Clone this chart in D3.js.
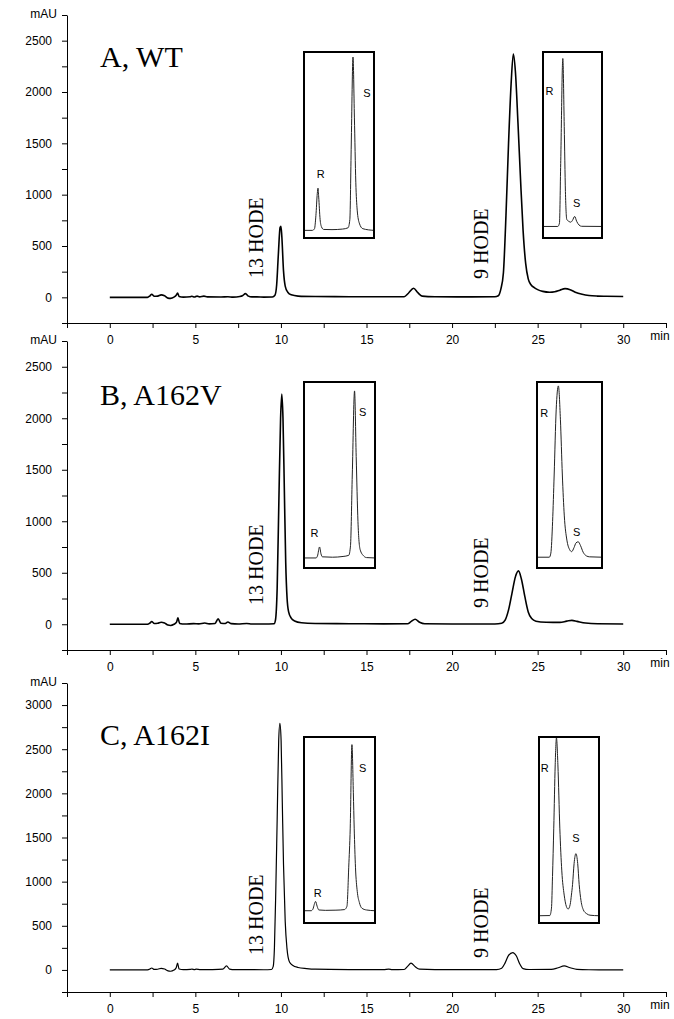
<!DOCTYPE html>
<html>
<head>
<meta charset="utf-8">
<script src="https://cdn.jsdelivr.net/npm/d3@7/dist/d3.min.js"></script>
<style>
  body { margin: 0; background: #fff; }
  .axis text { font-family: "Liberation Sans", Arial, sans-serif; font-size: 12px; fill: #000; }
  .axis path, .axis line { stroke: #000; stroke-width: 1; }
  .unit { font-family: "Liberation Sans", Arial, sans-serif; font-size: 12px; }
  .title { font-family: "Liberation Serif", "Times New Roman", serif; font-size: 30px; }
  .hode { font-family: "Liberation Serif", "Times New Roman", serif; font-size: 20px; }
  .rs { font-family: "Liberation Sans", Arial, sans-serif; font-size: 11px; }
</style>
</head>
<body>
<div id="chart"></div>
<script>
// --- data ---
const xTicks = d3.range(-2.5, 32.6, 2.5);          // minutes, labelled every 5 from 0 to 30
const panelTitles = ["A, WT", "B, A162V", "C, A162I"];

// main chromatograms: [retention time (min), absorbance (mAU)]
const traceA = [
  [0,0],[2.2,0],[2.35,15],[2.45,30],[2.6,10],[2.8,12],[3.0,24],[3.2,15],[3.4,-8],[3.55,-10],[3.75,2],
  [3.88,20],[3.96,42],[4.05,8],[4.3,2],[4.7,6],[4.8,10],[4.95,3],[5.1,12],[5.25,4],[5.5,12],[5.7,4],
  [6.5,3],[6.9,6],[7.2,2],[7.6,8],[7.75,15],[7.93,36],[8.1,12],[8.3,4],[8.6,4],[9.0,2],[9.5,3],
  [9.65,20],[9.75,120],[9.85,420],[9.95,680],[10.0,693],[10.05,600],[10.15,260],[10.25,110],[10.4,50],
  [10.6,24],[11,12],[12,8],[14,6],[16,5],[17.2,6],[17.45,40],[17.75,88],[18.0,45],[18.25,12],[19,6],
  [21,4],[22.5,5],[22.7,15],[22.85,80],[23.0,240],[23.15,800],[23.3,1500],[23.45,2080],[23.58,2370],
  [23.7,2200],[23.85,1700],[24.0,1150],[24.15,650],[24.3,330],[24.45,180],[24.6,125],[24.8,95],[25.0,75],
  [25.3,58],[25.7,50],[26.0,55],[26.3,70],[26.6,85],[26.9,75],[27.2,50],[27.6,30],[28,18],[28.5,12],
  [29,10],[30,8]
];
const traceB = [
  [0,0],[2.2,0],[2.35,12],[2.45,26],[2.6,8],[2.8,10],[3.0,20],[3.2,12],[3.4,-8],[3.55,-12],[3.75,0],
  [3.9,20],[3.98,62],[4.08,8],[4.4,2],[4.9,6],[5.2,4],[5.55,12],[5.8,4],[6.15,8],[6.33,52],[6.5,10],
  [6.75,8],[6.9,22],[7.1,6],[7.5,3],[8.0,8],[8.3,3],[9.0,2],[9.6,5],[9.68,40],[9.78,350],[9.88,1200],
  [9.98,2000],[10.05,2235],[10.12,2000],[10.2,1300],[10.28,600],[10.36,250],[10.45,120],[10.6,60],
  [10.8,32],[11.2,15],[12,8],[14,5],[16,4],[17.4,5],[17.6,25],[17.84,48],[18.1,20],[18.4,5],[20,3],
  [22.5,3],[22.9,10],[23.1,40],[23.3,140],[23.5,300],[23.7,460],[23.88,518],[24.05,440],[24.25,270],
  [24.45,120],[24.65,55],[24.9,30],[25.5,20],[26.3,18],[26.7,30],[27.0,38],[27.3,28],[27.8,12],
  [28.5,5],[30,3]
];
const traceC = [
  [0,0],[2.2,0],[2.35,10],[2.45,22],[2.6,6],[2.8,8],[3.0,18],[3.2,10],[3.4,-10],[3.55,-15],[3.75,-2],
  [3.88,25],[3.96,76],[4.05,10],[4.3,3],[4.7,6],[4.8,10],[4.95,4],[5.05,8],[5.3,3],[6.0,4],[6.6,8],
  [6.82,45],[7.0,10],[7.3,3],[8,3],[9,2],[9.45,5],[9.55,40],[9.62,250],[9.7,900],[9.78,1700],
  [9.87,2600],[9.94,2792],[10.01,2600],[10.08,1900],[10.15,1200],[10.25,550],[10.35,250],[10.5,90],
  [10.7,50],[11,28],[11.5,15],[12,8],[14,4],[16,3],[16.3,8],[16.5,3],[17.2,5],[17.4,40],[17.6,76],
  [17.85,35],[18.1,8],[19,3],[22.6,4],[22.9,20],[23.1,80],[23.3,165],[23.55,197],[23.75,160],
  [23.95,70],[24.15,15],[24.5,5],[25.8,6],[26.2,25],[26.55,45],[26.9,25],[27.3,6],[28,2],[30,0]
];

// chiral-phase insets: [relative position 0-100, relative signal 0-100]
const insetAL = [[0,4.1],[12,4.1],[15,5],[17,12],[19,24],[20,26.8],[21,22],[23,10],[25,6],[28,4.6],[40,4.5],
  [55,4.8],[63,5.5],[65.5,10],[67.5,50],[70,97.3],[72,65],[74,30],[76,15],[79,8],[84,5],[100,4.1]];
const insetAR = [[0,6.2],[25,6.2],[27.9,8],[30,40],[33.6,96.5],[36,60],[38,25],[40.3,10],[44,8.9],[47,8.5],
  [50,9.5],[53.7,11.6],[57,9],[61,7],[65.4,6.3],[100,6.2]];
const insetBL = [[0,5.4],[17,5.4],[19,6.5],[21.9,11.3],[24,7.5],[26,6],[40,5.8],[55,6.2],[63,6.8],[65.5,12],
  [68,50],[71.2,95.2],[73.5,60],[76,25],[79,10],[84,6.5],[88,5.6],[100,5.4]];
const insetBR = [[0,5.8],[19,5.8],[21.3,8],[24,25],[26.4,50],[29.5,85],[32.9,97.9],[36,80],[39,50],[42,28],
  [46,15],[50,10],[53.3,8.8],[57,11],[60,13.5],[63.4,14.1],[67,12],[71,8.5],[76,6.5],[81,6],[100,5.8]];
const insetCL = [[0,6.6],[10,6.6],[12.6,7.5],[14.5,10],[16.3,11.6],[18.5,9],[20.9,7],[30,6.8],[45,6.9],
  [57,7.2],[60.5,9],[63,30],[65.1,51],[67.5,95.9],[69.5,70],[70.7,51],[72.5,30],[75,17],[78,11],[81.4,8],
  [88,7],[100,6.6]];
const insetCR = [[0,3.9],[18,4],[20.8,8],[22.5,25],[24.6,51],[27,85],[29.1,99.5],[31.5,85],[34.7,51],[38,28],
  [42,15],[45.5,9],[48.6,7.5],[52,10],[54,15],[55.9,20.6],[58.5,32],[61.5,37.3],[64.5,32],[67,20.6],
  [70,12],[74,7],[79.4,5],[85,4.2],[100,3.9]];

// --- layout ---
const W = 674, H = 1019;
const xLeft = 67, xRight = 666;

const panels = [
  { title: panelTitles[0], trace: traceA, yMax: 2750, top: 15, bottom: 323, titleY: 67, lw: 1.6,
    h13: 278, h9: 279,
    insets: [
      { data: insetAL, x: 304, y: 52, w: 70, h: 186, R: [23.9, 32.5], S: [90, 75.9] },
      { data: insetAR, x: 543, y: 52, w: 59, h: 186, R: [11, 76.8], S: [57, 16.9] }
    ] },
  { title: panelTitles[1], trace: traceB, yMax: 2750, top: 341, bottom: 650, titleY: 405, lw: 1.6,
    h13: 605, h9: 608,
    insets: [
      { data: insetBL, x: 304, y: 382, w: 71, h: 186, R: [14.9, 16.9], S: [82.8, 81.8] },
      { data: insetBR, x: 537, y: 382, w: 65, h: 186, R: [11.1, 81], S: [61, 17.3] }
    ] },
  { title: panelTitles[2], trace: traceC, yMax: 3250, top: 683, bottom: 992, titleY: 745, lw: 1.2,
    h13: 955, h9: 958,
    insets: [
      { data: insetCL, x: 304, y: 737, w: 71, h: 186, R: [19.5, 14], S: [82.8, 81] },
      { data: insetCR, x: 539, y: 737, w: 60, h: 186, R: [9.5, 81], S: [61.5, 43.3] }
    ] }
];

const svg = d3.select("#chart").append("svg")
    .attr("width", W)
    .attr("height", H);

const xScale = d3.scaleLinear().domain([-2.5, 32.5]).range([xLeft, xRight]);

panels.forEach(p => {
  const g = svg.append("g");

  const yScale = d3.scaleLinear().domain([-250, p.yMax]).range([p.bottom, p.top]);
  const yTicks = d3.range(-250, p.yMax + 1, 250);

  // axes
  const xAxis = d3.axisBottom(xScale)
      .tickValues(xTicks)
      .tickSize(5)
      .tickSizeOuter(0)
      .tickPadding(7)
      .tickFormat(d => (d >= 0 && d <= 30 && d % 5 === 0) ? d : "");
  g.append("g")
      .attr("class", "axis")
      .attr("transform", `translate(0,${p.bottom})`)
      .call(xAxis);

  const yAxis = d3.axisLeft(yScale)
      .tickValues(yTicks)
      .tickSize(5)
      .tickSizeOuter(0)
      .tickPadding(10)
      .tickFormat(d => (d >= 0 && d % 500 === 0) ? d : "");
  g.append("g")
      .attr("class", "axis")
      .attr("transform", `translate(${xLeft},0)`)
      .call(yAxis);

  g.append("text").attr("class", "unit")
      .attr("x", 57).attr("y", p.top + 3)
      .attr("text-anchor", "end")
      .text("mAU");
  g.append("text").attr("class", "unit")
      .attr("x", 660).attr("y", p.bottom + 17)
      .attr("text-anchor", "middle")
      .text("min");

  // chromatogram
  const line = d3.line()
      .x(d => xScale(d[0]))
      .y(d => yScale(d[1]))
      .curve(d3.curveMonotoneX);
  g.append("path")
      .datum(p.trace)
      .attr("fill", "none")
      .attr("stroke", "#000")
      .attr("stroke-width", p.lw)
      .attr("stroke-linejoin", "round")
      .attr("d", line);

  // labels
  g.append("text").attr("class", "title")
      .attr("x", 100).attr("y", p.titleY)
      .text(p.title);
  g.append("text").attr("class", "hode")
      .attr("transform", `translate(263,${p.h13}) rotate(-90)`)
      .text("13 HODE");
  g.append("text").attr("class", "hode")
      .attr("transform", `translate(488,${p.h9}) rotate(-90)`)
      .text("9 HODE");

  // insets
  p.insets.forEach(ins => {
    const ix = d3.scaleLinear().domain([0, 100]).range([ins.x, ins.x + ins.w]);
    const iy = d3.scaleLinear().domain([0, 100]).range([ins.y + ins.h, ins.y]);
    const iline = d3.line()
        .x(d => ix(d[0]))
        .y(d => iy(d[1]))
        .curve(d3.curveMonotoneX);
    g.append("path")
        .datum(ins.data)
        .attr("fill", "none")
        .attr("stroke", "#222")
        .attr("stroke-width", 1)
        .attr("d", iline);
    g.append("rect")
        .attr("x", ins.x).attr("y", ins.y)
        .attr("width", ins.w).attr("height", ins.h)
        .attr("fill", "none")
        .attr("stroke", "#000")
        .attr("stroke-width", 2);
    g.append("text").attr("class", "rs")
        .attr("x", ix(ins.R[0])).attr("y", iy(ins.R[1]))
        .attr("text-anchor", "middle").text("R");
    g.append("text").attr("class", "rs")
        .attr("x", ix(ins.S[0])).attr("y", iy(ins.S[1]))
        .attr("text-anchor", "middle").text("S");
  });
});
</script>
</body>
</html>
